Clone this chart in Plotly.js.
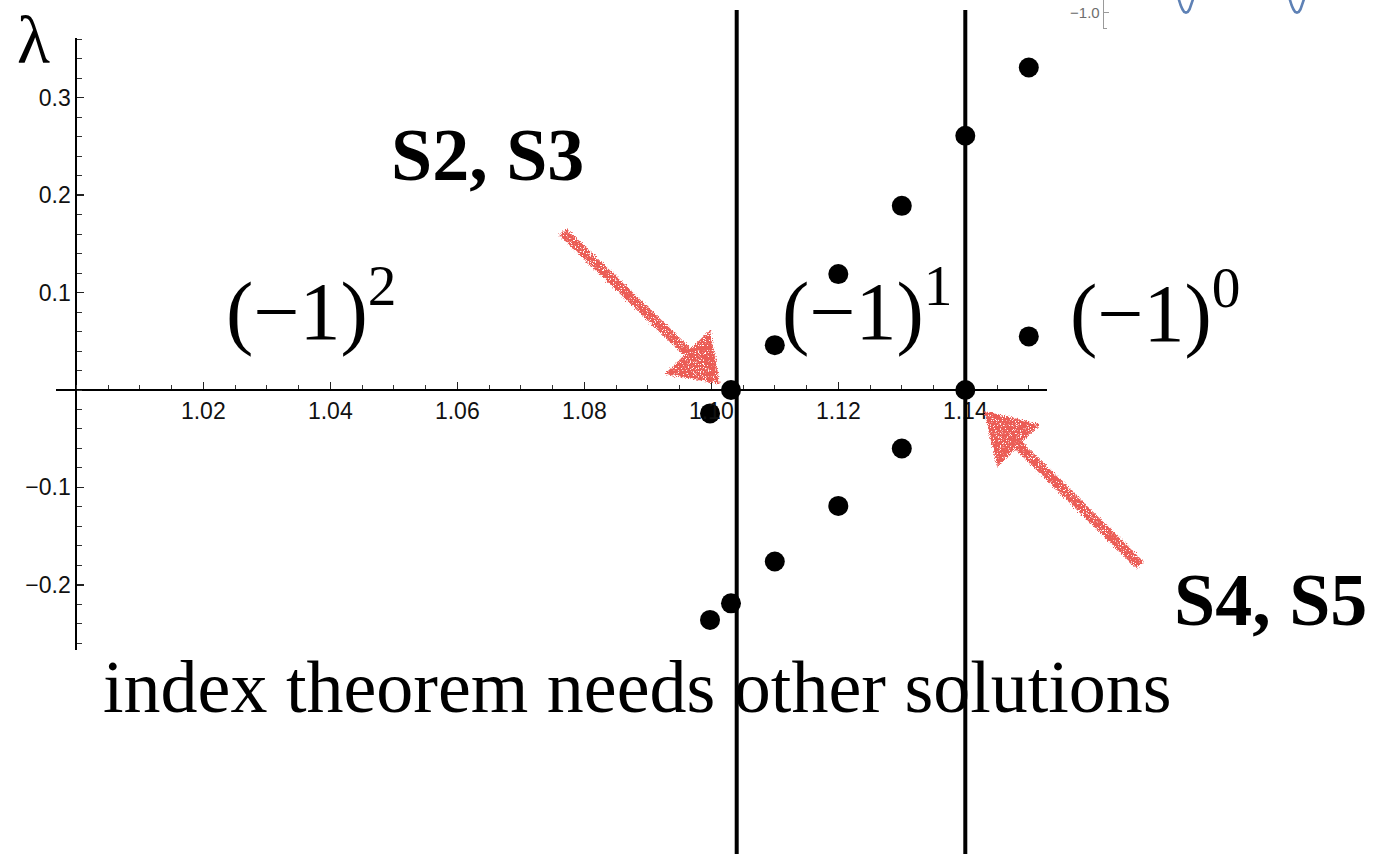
<!DOCTYPE html>
<html>
<head>
<meta charset="utf-8">
<script src="https://cdn.plot.ly/plotly-3.0.1.min.js"></script>
<style>
  html, body { margin: 0; padding: 0; background: #ffffff; overflow: hidden; }
  #chart { width: 1373px; height: 854px; }
</style>
</head>
<body>
<div id="chart"></div>
<script>
// Eigenvalue branches lambda(kappa) of the fluctuation operator
const kappa   = [1.0998, 1.1031, 1.11, 1.12, 1.13, 1.14, 1.15];
const lambdaA = [-0.024, 0.000, 0.046, 0.119, 0.189, 0.261, 0.331];
const lambdaB = [-0.236, -0.219, -0.176, -0.119, -0.060, 0.000, 0.055];

// couplings where an eigenvalue crosses zero
const criticalKappa = [1.104, 1.14];

// tick labels
const xTickVals = [1.02, 1.04, 1.06, 1.08, 1.10, 1.12, 1.14];
const xTickText = ['1.02', '1.04', '1.06', '1.08', '1.10', '1.12', '1.14'];
const yTickVals = [-0.2, -0.1, 0.1, 0.2, 0.3];
const yTickText = ['\u22120.2', '\u22120.1', '0.1', '0.2', '0.3'];

// small neighbouring panel: bottoms of the oscillating profile
const insetT = [2.64, 2.74, 2.84, 2.94, 3.04, 3.14, 3.24, 3.34, 3.44, 3.54, 3.64, null,
                8.92, 9.02, 9.12, 9.22, 9.32, 9.42, 9.52, 9.62, 9.72, 9.82, 9.92];
const insetV = [-0.878, -0.918, -0.952, -0.978, -0.995, -1.0, -0.995, -0.978, -0.952, -0.918, -0.878, null,
                -0.878, -0.918, -0.952, -0.978, -0.995, -1.0, -0.995, -0.978, -0.952, -0.918, -0.878];

// ---- page geometry (pixels) ----
const W = 1373, H = 854;
const X0PX = 76.3, XSCALE = 6350;   // kappa = 1.00 at X0PX, px per unit
const Y0PX = 390,  YSCALE = 974.3;  // lambda = 0 at Y0PX, px per unit
const kAt = p => 1 + (p - X0PX) / XSCALE;
const lAt = p => (Y0PX - p) / YSCALE;
const px = p => p / W;
const py = p => 1 - p / H;

const axisFont = { family: 'Liberation Sans, Arial, sans-serif', size: 23, color: '#111' };
const serif = 'Liberation Serif, Times New Roman, serif';
const arrowRed = '#eb5d57';

const traces = [
  {
    x: kappa.concat(kappa), y: lambdaA.concat(lambdaB),
    type: 'scatter', mode: 'markers',
    marker: { color: '#000', size: 20 },
    xaxis: 'x', yaxis: 'y', cliponaxis: false, hoverinfo: 'skip'
  }
];

const lineTop = lAt(10), lineBottom = lAt(H + 2);
criticalKappa.forEach(k => {
  traces.push({
    x: [k, k], y: [lineTop, lineBottom],
    type: 'scatter', mode: 'lines',
    line: { color: '#000', width: 4 },
    xaxis: 'x2', yaxis: 'y2', hoverinfo: 'skip'
  });
});

traces.push({
  x: insetT, y: insetV, type: 'scatter', mode: 'lines',
  line: { color: '#5e81b5', width: 2.6 },
  xaxis: 'x3', yaxis: 'y3', hoverinfo: 'skip', connectgaps: false
});

// inset geometry
const INSET_AX_PX = 1102.7, INSET_XSCALE = 17.67;
const insetXL = Math.PI - (1186 - INSET_AX_PX) / INSET_XSCALE;
const insetYScale = 153, insetMinusOnePx = 12.7, insetBottomPx = 29;

// hand-drawn style pointer: shaft + triangular head, given in page pixels
function pointer(tail, tip, c1, c2) {
  const mid = [(c1[0] + c2[0]) / 2, (c1[1] + c2[1]) / 2];
  const P = p => px(p[0]).toFixed(5) + ',' + py(p[1]).toFixed(5);
  return [
    { type: 'path', xref: 'paper', yref: 'paper', path: 'M' + P(tail) + ' L' + P(mid),
      line: { color: arrowRed, width: 10 } },
    { type: 'path', xref: 'paper', yref: 'paper',
      path: 'M' + P(tip) + ' L' + P(c1) + ' L' + P(c2) + ' Z',
      fillcolor: arrowRed, line: { color: arrowRed, width: 3 } }
  ];
}

const layout = {
  width: W, height: H,
  margin: { l: 0, r: 0, t: 0, b: 0, pad: 0 },
  paper_bgcolor: '#fff', plot_bgcolor: 'rgba(0,0,0,0)',
  showlegend: false,
  xaxis: {
    domain: [px(56), px(1047)], range: [kAt(56), kAt(1047)],
    anchor: 'free', position: py(Y0PX),
    showline: true, linecolor: '#000', linewidth: 2,
    ticks: 'inside', ticklen: 7, tickwidth: 1.3, tickcolor: '#222',
    tickmode: 'array', tickvals: xTickVals, ticktext: xTickText, tickfont: axisFont,
    minor: { tickmode: 'linear', tick0: 1.0, dtick: 0.005, ticks: 'inside', ticklen: 4, tickwidth: 1, tickcolor: '#333' },
    showgrid: false, zeroline: false, fixedrange: true
  },
  yaxis: {
    domain: [py(650), py(38)], range: [lAt(650), lAt(38)],
    anchor: 'free', position: px(X0PX),
    showline: true, linecolor: '#000', linewidth: 2,
    ticks: 'inside', ticklen: 7, tickwidth: 1.3, tickcolor: '#222',
    tickmode: 'array', tickvals: yTickVals, ticktext: yTickText, tickfont: axisFont,
    minor: { tickmode: 'linear', tick0: 0, dtick: 0.02, ticks: 'inside', ticklen: 5, tickwidth: 1, tickcolor: '#333' },
    showgrid: false, zeroline: false, fixedrange: true
  },
  xaxis2: { domain: [0, 1], range: [kAt(0), kAt(W)], anchor: 'y2', visible: false, fixedrange: true },
  yaxis2: { domain: [0, 1], range: [lAt(H), lAt(0)], anchor: 'x2', visible: false, fixedrange: true },
  xaxis3: {
    domain: [px(INSET_AX_PX), 1],
    range: [insetXL, insetXL + (W - INSET_AX_PX) / INSET_XSCALE],
    anchor: 'y3', visible: false, fixedrange: true
  },
  yaxis3: {
    domain: [py(insetBottomPx), 1],
    range: [-1 - (insetBottomPx - insetMinusOnePx) / insetYScale, -1 + insetMinusOnePx / insetYScale],
    anchor: 'free', position: px(INSET_AX_PX),
    showline: true, linecolor: '#9a9a9a', linewidth: 1,
    ticks: 'inside', ticklen: 5, tickwidth: 1, tickcolor: '#9a9a9a',
    tickmode: 'array', tickvals: [-1.0], ticktext: ['\u22121.0'],
    tickfont: { family: 'Liberation Sans, Arial, sans-serif', size: 15, color: '#6e6e6e' },
    minor: { tickmode: 'array', tickvals: [-1.1], ticks: 'inside', ticklen: 3, tickwidth: 1, tickcolor: '#9a9a9a' },
    showgrid: false, zeroline: false, fixedrange: true
  },
  shapes: [].concat(
    pointer([563, 232], [718, 382], [668, 373], [709, 333]),
    pointer([1140, 565], [986, 413], [1037, 425], [998, 464])
  ),
  annotations: [
    { text: '\u03bb', x: px(33), y: py(40), font: { family: serif, size: 68, color: '#000' } },
    { text: '(\u22121)<sup>2</sup>', x: px(311), y: py(305), font: { family: serif, size: 82, color: '#000' } },
    { text: '(\u22121)<sup>1</sup>', x: px(867), y: py(305), font: { family: serif, size: 82, color: '#000' } },
    { text: '(\u22121)<sup>0</sup>', x: px(1155), y: py(307), font: { family: serif, size: 82, color: '#000' } },
    { text: '<b>S2, S3</b>', x: px(487), y: py(155), font: { family: serif, size: 74, color: '#000' } },
    { text: '<b>S4, S5</b>', x: px(1270), y: py(600), font: { family: serif, size: 74, color: '#000' } },
    { text: 'index theorem needs other solutions', x: px(637), y: py(687), font: { family: serif, size: 74, color: '#000' } }
  ].map(a => Object.assign({ xref: 'paper', yref: 'paper', showarrow: false, xanchor: 'center', yanchor: 'middle' }, a))
};

Plotly.newPlot('chart', traces, layout, { staticPlot: true, displayModeBar: false }).then(gd => {
  // rough, sprayed look for the red pointers
  const ns = 'http://www.w3.org/2000/svg';
  const svg = gd.querySelector('svg.main-svg');
  const defs = document.createElementNS(ns, 'defs');
  defs.innerHTML =
    '<filter id="spray" x="-20%" y="-20%" width="140%" height="140%">' +
    '<feTurbulence type="fractalNoise" baseFrequency="0.9" numOctaves="2" seed="3" result="noise"/>' +
    '<feDisplacementMap in="SourceGraphic" in2="noise" scale="6" xChannelSelector="R" yChannelSelector="G" result="rough"/>' +
    '<feTurbulence type="fractalNoise" baseFrequency="1.4" numOctaves="1" seed="7" result="grain"/>' +
    '<feColorMatrix in="grain" type="matrix" values="0 0 0 0 0  0 0 0 0 0  0 0 0 0 0  0 0 0 -12 8.2" result="holes"/>' +
    '<feComposite in="rough" in2="holes" operator="in"/>' +
    '</filter>';
  svg.insertBefore(defs, svg.firstChild);
  gd.querySelectorAll('.shapelayer path').forEach(p => p.setAttribute('filter', 'url(#spray)'));
});
</script>
</body>
</html>
